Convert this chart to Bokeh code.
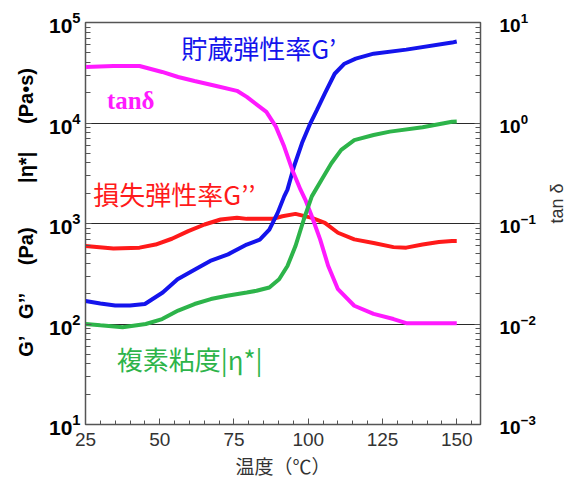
import math
from bokeh.plotting import figure
from bokeh.models import Range1d, LogAxis, LogScale, LogTicker, FixedTicker, Label
from bokeh.embed import file_html
from bokeh.resources import INLINE

# ---- data ----
temp_storage = [25, 30, 35, 40, 45, 51, 56, 62, 67, 73, 79.3, 83.7, 86.9, 89.7, 91.9, 93,
                95.2, 97.9, 100.7, 102.9, 105.6, 108.9, 112.2, 116, 122, 133, 148.4, 150]
storage_modulus = [169, 160, 153, 153, 158, 206, 279, 351, 424, 493, 617, 692, 871, 1276, 1862, 2173,
                   3690, 6310, 9930, 13460, 19680, 30900, 38900, 43650, 48980, 53700, 63100, 64600]

temp_loss = [25, 34.4, 43.2, 48.6, 54.1, 59.6, 65.1, 70.5, 76, 79.3, 88.1, 91.3, 95.7, 101.2,
             105.6, 110, 115.5, 122, 128.7, 133, 138.5, 144, 148.4, 150]
loss_modulus = [596, 565, 575, 617, 705, 839, 977, 1096, 1138, 1112, 1112, 1180, 1247, 1138,
                1016, 809, 695, 640, 582, 575, 617, 653, 668, 668]

temp_visc = [25, 30, 37.5, 45.3, 50.8, 56.2, 61.7, 67.2, 72.7, 79.3, 82.6, 86.9, 90.2, 93,
             95.7, 98.5, 101.2, 104.5, 107.8, 111.1, 115.5, 122, 127.5, 138.5, 148.4, 150]
complex_visc = [100, 97, 93, 100, 112, 136, 158, 177, 191, 206, 214, 231, 279, 378,
                596, 1096, 1862, 2730, 3981, 5408, 6761, 7586, 8204, 9057, 10300, 10350]

temp_tan = [25, 34.4, 43.2, 50.8, 56.2, 61.7, 69.4, 76, 79.3, 85.9, 89.1, 91.9, 94.6, 97.4,
            99, 101.2, 104, 106.7, 110, 115.5, 122, 128.7, 133, 150]
tan_delta = [3.61, 3.69, 3.69, 3.22, 2.87, 2.62, 2.32, 2.09, 1.82, 1.29, 0.92, 0.583, 0.343, 0.217,
             0.173, 0.118, 0.0695, 0.038, 0.0222, 0.0152, 0.0126, 0.0112, 0.0102, 0.0102]

x_ticks = [25, 50, 75, 100, 125, 150]
x_minor = [30, 35, 40, 45, 55, 60, 65, 70, 80, 85, 90, 95, 105, 110, 115, 120, 130, 135, 140, 145, 155]
grid_levels = [100, 1000, 10000]

BLUE = "#1414EC"
RED = "#FF1A1A"
MAGENTA = "#FF1AFF"
GREEN = "#2DB44A"

p = figure(width=579, height=481, x_range=Range1d(25, 158), y_range=Range1d(10, 1e5),
           y_axis_type="log", output_backend="svg", toolbar_location=None,
           min_border_left=85, min_border_right=89, min_border_top=22, min_border_bottom=55)
p.extra_y_ranges = {"tan": Range1d(1e-3, 10)}
p.extra_y_scales = {"tan": LogScale()}

p.outline_line_color = "#555555"
p.outline_line_width = 1.5
p.background_fill_color = "white"
p.border_fill_color = "white"

# grid
p.xgrid.visible = False
p.ygrid.ticker = FixedTicker(ticks=grid_levels)
p.ygrid.grid_line_color = "#2a2a2a"
p.ygrid.grid_line_width = 1

# x axis
xa = p.xaxis[0]
xa.ticker = FixedTicker(ticks=x_ticks, minor_ticks=x_minor)
xa.major_tick_in = 6
xa.major_tick_out = 0
xa.minor_tick_in = 4
xa.minor_tick_out = 0
xa.axis_line_color = "#555555"
xa.major_tick_line_color = "#555555"
xa.minor_tick_line_color = "#555555"
xa.major_label_text_font = "Liberation Sans"
xa.major_label_text_font_size = "19px"
xa.major_label_text_color = "#333333"
xa.major_label_standoff = 8
xa.axis_label = "温度（℃）"
xa.axis_label_text_font = "Noto Sans CJK JP"
xa.axis_label_text_font_size = "19px"
xa.axis_label_text_font_style = "normal"
xa.axis_label_text_color = "#333333"
xa.axis_label_standoff = 3

# left axis
ya = p.yaxis[0]
ya.ticker = LogTicker(num_minor_ticks=10)
ya.major_tick_in = 6
ya.major_tick_out = 0
ya.minor_tick_in = 5
ya.minor_tick_out = 0
ya.axis_line_color = "#555555"
ya.major_tick_line_color = "#555555"
ya.minor_tick_line_color = "#555555"
ya.major_label_text_font = "Liberation Sans"
ya.major_label_text_font_style = "bold"
ya.major_label_text_font_size = "21px"
ya.major_label_text_color = "black"
ya.major_label_standoff = 5
nb = "\u00a0"
ya.axis_label = (nb * 4 + "G’" + nb * 3 + "G’’" + nb * 5 + "(Pa)" + nb * 8 + "|η*|" + nb * 5 + "(Pa•s)")
ya.axis_label_text_font = "Liberation Sans"
ya.axis_label_text_font_style = "bold"
ya.axis_label_text_font_size = "20px"
ya.axis_label_text_color = "black"
ya.axis_label_standoff = 9

# right axis
ra = LogAxis(y_range_name="tan", ticker=LogTicker(num_minor_ticks=10))
ra.major_tick_in = 6
ra.major_tick_out = 0
ra.minor_tick_in = 5
ra.minor_tick_out = 0
ra.axis_line_color = "#555555"
ra.major_tick_line_color = "#555555"
ra.minor_tick_line_color = "#555555"
ra.major_label_text_font = "Liberation Sans"
ra.major_label_text_font_style = "bold"
ra.major_label_text_font_size = "19px"
ra.major_label_text_color = "black"
ra.major_label_standoff = 19
ra.axis_label = "tan δ"
ra.axis_label_text_font = "Liberation Sans"
ra.axis_label_text_font_style = "normal"
ra.axis_label_text_font_size = "18px"
ra.axis_label_text_color = "#333333"
ra.axis_label_standoff = 18
try:
    ra.axis_label_orientation = math.pi / 2
except Exception:
    pass
p.add_layout(ra, "right")

# curves
p.line(temp_loss, loss_modulus, line_width=4, color=RED)
p.line(temp_storage, storage_modulus, line_width=4, color=BLUE)
p.line(temp_tan, tan_delta, line_width=4, color=MAGENTA, y_range_name="tan")
p.line(temp_visc, complex_visc, line_width=4, color=GREEN)

# annotations
p.add_layout(Label(x=57.2, y=56000, text="貯蔵弾性率G’", text_color=BLUE,
                   text_font="Noto Sans CJK JP", text_font_size="26px",
                   text_baseline="middle", text_align="left"))
p.add_layout(Label(x=27.6, y=2000, text="損失弾性率G’’", text_color=RED,
                   text_font="Noto Sans CJK JP", text_font_size="26px",
                   text_baseline="middle", text_align="left"))
p.add_layout(Label(x=32.2, y=16900, text="tanδ", text_color=MAGENTA,
                   text_font="Liberation Serif", text_font_style="bold", text_font_size="25px",
                   text_baseline="middle", text_align="left"))
p.add_layout(Label(x=35.5, y=45, text="複素粘度|η*|", text_color=GREEN,
                   text_font="Noto Sans CJK JP", text_font_size="26px",
                   text_baseline="middle", text_align="left"))

open("out.html", "w").write(file_html(p, INLINE))
